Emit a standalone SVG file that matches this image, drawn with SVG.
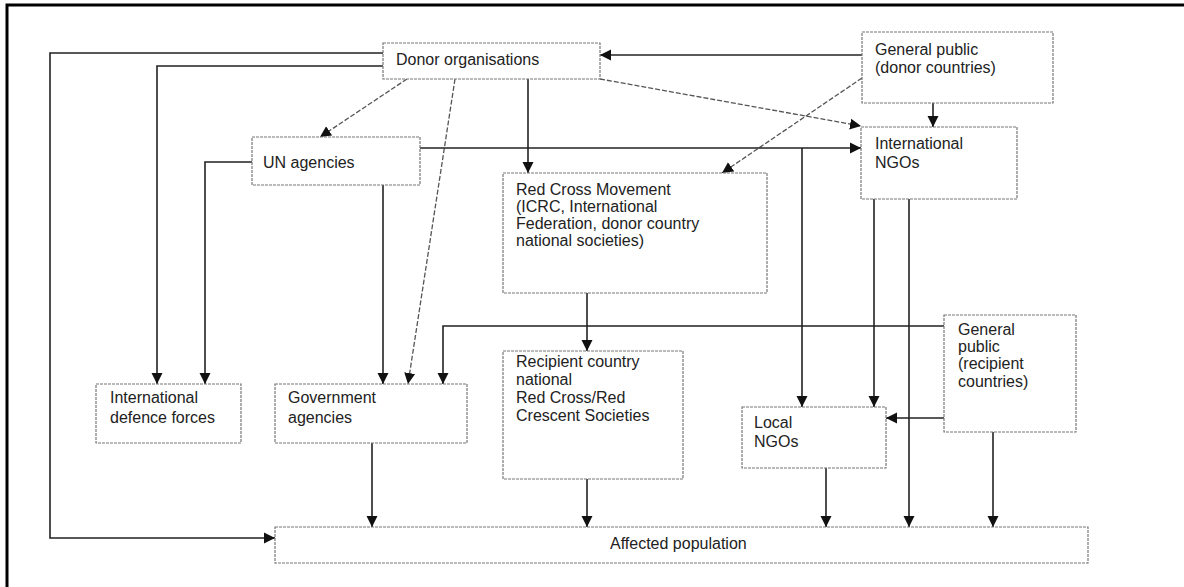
<svg xmlns="http://www.w3.org/2000/svg" width="1184" height="587" viewBox="0 0 1184 587">
<style>
.box{fill:#fff;stroke:#777;stroke-width:1.2;stroke-dasharray:3 1}
.t{font-family:"Liberation Sans",Arial,sans-serif;font-size:16px;fill:#222}
.c{fill:none;stroke:#222;stroke-width:1.6;marker-end:url(#ah)}
.d{fill:none;stroke:#555;stroke-width:1.3;stroke-dasharray:5 2;marker-end:url(#ah)}
.p{fill:none;stroke:#222;stroke-width:1.6}
</style>
<defs>
<marker id="ah" markerUnits="userSpaceOnUse" markerWidth="12" markerHeight="12" refX="11" refY="6" orient="auto">
<path d="M0,0.5 L11,6 L0,11.5 z" fill="#111"/>
</marker>
</defs>
<rect width="1184" height="587" fill="#fff"/>
<path d="M7,587 V5 H1184" fill="none" stroke="#000" stroke-width="3"/>

<g id="connectors">
<path class="c" d="M383,53 H50 V538 H275"/>
<path class="c" d="M383,66 H157 V384"/>
<path class="c" d="M252,162 H205 V384"/>
<path class="d" d="M407,79 L320,137"/>
<path class="d" d="M455,79 L408,384"/>
<path class="c" d="M528,79 V173"/>
<path class="d" d="M600,79 L861,126"/>
<path class="c" d="M862,55 H600"/>
<path class="d" d="M862,78 L722,173"/>
<path class="c" d="M933,103 V127"/>
<path class="c" d="M420,148 H861"/>
<path class="c" d="M802,148 V407"/>
<path class="c" d="M383,185 V384"/>
<path class="c" d="M587,293 V351"/>
<path class="c" d="M944,326 H443 V384"/>
<path class="c" d="M874,199 V407"/>
<path class="c" d="M909,199 V527"/>
<path class="c" d="M944,418 H886"/>
<path class="c" d="M372,443 V527"/>
<path class="c" d="M587,479 V527"/>
<path class="c" d="M826,468 V527"/>
<path class="c" d="M993,432 V527"/>
</g>

<g id="donor">
<rect class="box" x="383" y="43" width="217" height="36"/>
<text class="t" x="396" y="65">Donor organisations</text>
</g>
<g id="gp-donor">
<rect class="box" x="862" y="32" width="191" height="71"/>
<text class="t" x="875" y="55">General public</text>
<text class="t" x="875" y="73">(donor countries)</text>
</g>
<g id="un">
<rect class="box" x="252" y="137" width="168" height="48"/>
<text class="t" x="263" y="168">UN agencies</text>
</g>
<g id="intl-ngos">
<rect class="box" x="861" y="127" width="156" height="72"/>
<text class="t" x="875" y="149">International</text>
<text class="t" x="875" y="168">NGOs</text>
</g>
<g id="red-cross">
<rect class="box" x="503" y="173" width="264" height="120"/>
<text class="t" x="516" y="195">Red Cross Movement</text>
<text class="t" x="516" y="212">(ICRC, International</text>
<text class="t" x="516" y="229">Federation, donor country</text>
<text class="t" x="516" y="246">national societies)</text>
</g>
<g id="defence">
<rect class="box" x="96" y="384" width="145" height="59"/>
<text class="t" x="110" y="403">International</text>
<text class="t" x="110" y="423">defence forces</text>
</g>
<g id="government">
<rect class="box" x="275" y="384" width="192" height="59"/>
<text class="t" x="288" y="403">Government</text>
<text class="t" x="288" y="423">agencies</text>
</g>
<g id="recipient">
<rect class="box" x="503" y="351" width="180" height="128"/>
<text class="t" x="516" y="367">Recipient country</text>
<text class="t" x="516" y="385">national</text>
<text class="t" x="516" y="403">Red Cross/Red</text>
<text class="t" x="516" y="421">Crescent Societies</text>
</g>
<g id="local-ngos">
<rect class="box" x="742" y="407" width="144" height="61"/>
<text class="t" x="754" y="428">Local</text>
<text class="t" x="754" y="447">NGOs</text>
</g>
<g id="gp-recipient">
<rect class="box" x="944" y="315" width="132" height="117"/>
<text class="t" x="958" y="335">General</text>
<text class="t" x="958" y="352">public</text>
<text class="t" x="958" y="369">(recipient</text>
<text class="t" x="958" y="387">countries)</text>
</g>
<g id="affected">
<rect class="box" x="275" y="527" width="813" height="36"/>
<text class="t" x="610" y="549">Affected population</text>
</g>
</svg>
